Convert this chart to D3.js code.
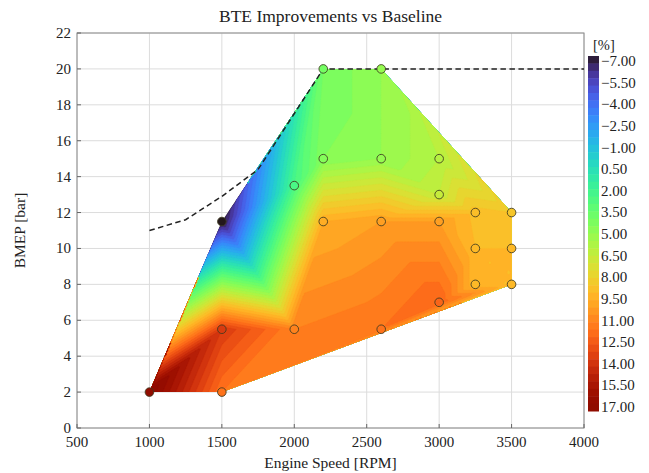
<!DOCTYPE html>
<html><head><meta charset="utf-8">
<script src="https://cdn.jsdelivr.net/npm/d3@7"></script>
<style>
body{margin:0;background:#fff;}
text{font-family:"Liberation Serif","Times New Roman",serif;fill:#222;}
</style>
</head><body><svg id="c" width="649" height="473"></svg>
<script>
// ---- data ----
const rpm  = [1000,1500,1500,1500,2000,2000,2200,2200,2200,2600,2600,2600,2600,3000,3000,3000,3000,3250,3250,3250,3500,3500,3500];
const bmep = [2,   2,   5.5, 11.5,5.5, 13.5,20,  15,  11.5,20,  15,  11.5,5.5, 15,  13,  11.5,7,   12,  10,  8,   12,  10,  8];
const bte  = [17,  11.5,13.5,-7,  11,  2.5, 4,   4.5, 9.5, 5,   5,   10,  11.5,6,   6.5, 10,  12,  8.8, 9,   9,   8.5, 9,   9];
const limitRpm  = [1000,1250,1500,1750,2200,4000];
const limitBmep = [11,  11.6,12.9,14.4,20,  20];
const xTicks = [500,1000,1500,2000,2500,3000,3500,4000];
const yTicks = [0,2,4,6,8,10,12,14,16,18,20,22];
const cbTicks = [-7,-5.5,-4,-2.5,-1,0.5,2,3.5,5,6.5,8,9.5,11,12.5,14,15.5,17];

// ---- layout ----
const svg = d3.select("#c");
const L = 77, R = 584, T = 33, B = 428;
const x = d3.scaleLinear().domain([500,4000]).range([L,R]);
const y = d3.scaleLinear().domain([0,22]).range([B,T]);
const vmin = -7, vmax = 17;
const color = v => d3.interpolateTurbo((Math.max(vmin,Math.min(vmax,v))-vmin)/(vmax-vmin));

// grid lines
svg.append("g").selectAll("line").data(xTicks).join("line")
  .attr("x1",d=>x(d)).attr("x2",d=>x(d)).attr("y1",T).attr("y2",B)
  .attr("stroke","#dcdcdc").attr("stroke-width",1);
svg.append("g").selectAll("line").data(yTicks).join("line")
  .attr("y1",d=>y(d)).attr("y2",d=>y(d)).attr("x1",L).attr("x2",R)
  .attr("stroke","#dcdcdc").attr("stroke-width",1);

// ---- interpolation field (linear on Delaunay triangulation) ----
const pts = rpm.map((r,i)=>[x(r), y(bmep[i])]);
const del = d3.Delaunay.from(pts);
const dxv = 10, dyv = 0.1;
const nx = Math.round((4000-500)/dxv)+1, ny = Math.round(22/dyv)+1;
const vals = new Float64Array(nx*ny).fill(NaN);
const tri = del.triangles;
for (let t=0;t<tri.length;t+=3){
  const a=tri[t],b=tri[t+1],c=tri[t+2];
  const [x1,y1]=pts[a],[x2,y2]=pts[b],[x3,y3]=pts[c];
  const det=(y2-y3)*(x1-x3)+(x3-x2)*(y1-y3);
  const rmin=Math.min(rpm[a],rpm[b],rpm[c]), rmax=Math.max(rpm[a],rpm[b],rpm[c]);
  const bmin=Math.min(bmep[a],bmep[b],bmep[c]), bmax=Math.max(bmep[a],bmep[b],bmep[c]);
  const i0=Math.floor((rmin-500)/dxv), i1=Math.ceil((rmax-500)/dxv);
  const j0=Math.floor(bmin/dyv), j1=Math.ceil(bmax/dyv);
  for(let j=j0;j<=j1;j++)for(let i=i0;i<=i1;i++){
    const px=x(500+i*dxv), py=y(j*dyv);
    const l1=((y2-y3)*(px-x3)+(x3-x2)*(py-y3))/det;
    const l2=((y3-y1)*(px-x3)+(x1-x3)*(py-y3))/det;
    const l3=1-l1-l2;
    if(l1>=-1e-6&&l2>=-1e-6&&l3>=-1e-6){
      vals[j*nx+i]=l1*bte[a]+l2*bte[b]+l3*bte[c];
    }
  }
}
// extend outside hull with nearest sample (clipped away later)
for(let j=0;j<ny;j++)for(let i=0;i<nx;i++){
  const k=j*nx+i;
  if(isNaN(vals[k])) vals[k]=bte[del.find(x(500+i*dxv), y(j*dyv))];
}
const step=0.5;
const thresholds=d3.range(vmin, vmax, step);
const contours=d3.contours().size([nx,ny]).thresholds(thresholds)(Array.from(vals));
const proj=d3.geoTransform({point:function(cx,cy){
  this.stream.point(x(500+(cx-0.5)*dxv), y((cy-0.5)*dyv));
}});
const path=d3.geoPath(proj);
const hull=d3.polygonHull(pts);
svg.append("clipPath").attr("id","hull").append("path")
  .attr("d","M"+hull.join("L")+"Z");
svg.append("g").attr("clip-path","url(#hull)")
  .selectAll("path").data(contours).join("path")
  .attr("d",path).attr("fill",d=>color(d.value+step/2)).attr("stroke",d=>color(d.value+step/2)).attr("stroke-width",0.3);

// frame
svg.append("rect").attr("x",L).attr("y",T).attr("width",R-L).attr("height",B-T)
  .attr("fill","none").attr("stroke","#8a8a8a").attr("stroke-width",1);
// ticks (inward)
svg.append("g").selectAll("line").data(xTicks).join("line")
  .attr("x1",d=>x(d)).attr("x2",d=>x(d)).attr("y1",B).attr("y2",B-4).attr("stroke","#666");
svg.append("g").selectAll("line").data(yTicks).join("line")
  .attr("y1",d=>y(d)).attr("y2",d=>y(d)).attr("x1",L).attr("x2",L+4).attr("stroke","#666");

// tick labels
svg.append("g").selectAll("text").data(xTicks).join("text")
  .attr("x",d=>x(d)).attr("y",B+19).attr("text-anchor","middle")
  .attr("font-size",15).text(d=>d);
svg.append("g").selectAll("text").data(yTicks).join("text")
  .attr("x",L-6).attr("y",d=>y(d)+5).attr("text-anchor","end")
  .attr("font-size",15).text(d=>d);

// limit line
svg.append("path").datum(limitRpm.map((r,i)=>[r,limitBmep[i]]))
  .attr("d",d3.line().x(d=>x(d[0])).y(d=>y(d[1])))
  .attr("fill","none").attr("stroke","#222").attr("stroke-width",1.5).attr("stroke-dasharray","5.5,3.5");

// markers
svg.append("g").selectAll("circle").data(rpm.map((r,i)=>({r,b:bmep[i],v:bte[i]}))).join("circle")
  .attr("cx",d=>x(d.r)).attr("cy",d=>y(d.b)).attr("r",4.3)
  .attr("fill",d=>color(d.v)).attr("stroke","#3d3a20").attr("stroke-opacity",0.85).attr("stroke-width",1);

// titles
svg.append("text").attr("x",(L+R)/2).attr("y",22).attr("text-anchor","middle")
  .attr("font-size",17.5).text("BTE Improvements vs Baseline");
svg.append("text").attr("x",(L+R)/2).attr("y",468).attr("text-anchor","middle")
  .attr("font-size",15.5).text("Engine Speed [RPM]");
svg.append("text").attr("transform",`translate(25,${(T+B)/2}) rotate(-90)`).attr("text-anchor","middle")
  .attr("font-size",15.5).text("BMEP [bar]");

// colorbar
const cbX=588, cbW=11, cbT=56, cbB=411;
const cy=d3.scaleLinear().domain([vmin,vmax]).range([cbT,cbB]);
svg.append("g").selectAll("rect").data(thresholds).join("rect")
  .attr("x",cbX).attr("width",cbW).attr("y",d=>cy(d)).attr("height",d=>cy(d+step)-cy(d)+0.5)
  .attr("fill",d=>color(d+step/2));
const cyl=d3.scaleLinear().domain([vmin,vmax]).range([61,407]);
svg.append("g").selectAll("text").data(cbTicks).join("text")
  .attr("x",cbX+cbW+2).attr("y",d=>cyl(d)+5).attr("font-size",15)
  .text(d=>d3.format(".2f")(d));
svg.append("text").attr("x",cbX+5).attr("y",50).attr("font-size",14.5).text("[%]");
</script></body></html>
